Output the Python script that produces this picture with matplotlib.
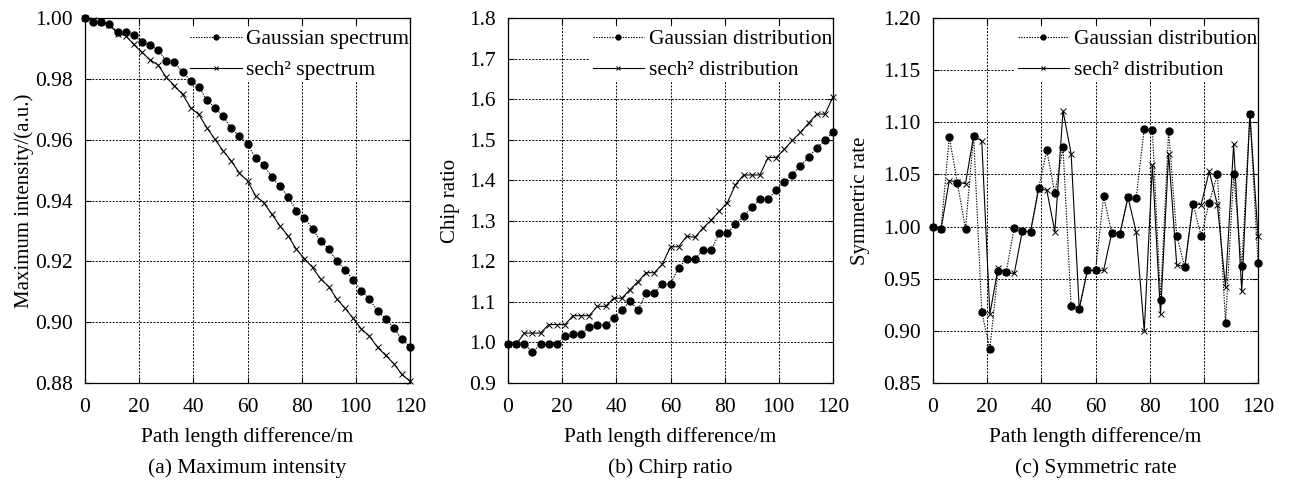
import matplotlib
matplotlib.use("Agg")
import matplotlib.pyplot as plt
from matplotlib.ticker import FormatStrFormatter

plt.rcParams['font.family'] = ['Liberation Serif', 'DejaVu Serif']
plt.rcParams['font.size'] = 15.5

# path length difference (m), sampled every 3 m
dist = [0, 3, 6, 9, 12, 15, 18, 21, 24, 27, 30, 33, 36, 39, 42, 45, 48, 51, 54, 57, 60,
        63, 66, 69, 72, 75, 78, 81, 84, 87, 90, 93, 96, 99, 102, 105, 108, 111, 114, 117, 120]

# (a) maximum intensity
gauss_int = [1.000, 0.9987, 0.9986, 0.9980, 0.9954, 0.9954, 0.9943, 0.9921, 0.9911, 0.9894,
             0.9860, 0.9854, 0.9823, 0.9794, 0.9774, 0.9730, 0.9705, 0.9677, 0.9637, 0.9612,
             0.9585, 0.9540, 0.9518, 0.9476, 0.9447, 0.9411, 0.9367, 0.9343, 0.9307, 0.9266,
             0.9241, 0.9200, 0.9173, 0.9140, 0.9104, 0.9077, 0.9036, 0.9012, 0.8980, 0.8944,
             0.8920]
sech_int = [1.000, 0.9993, 0.9986, 0.9978, 0.9949, 0.9942, 0.9913, 0.9887, 0.9863, 0.9845,
            0.9805, 0.9778, 0.9749, 0.9705, 0.9683, 0.9639, 0.9601, 0.9563, 0.9530, 0.9490,
            0.9465, 0.9415, 0.9393, 0.9355, 0.9316, 0.9284, 0.9240, 0.9209, 0.9180, 0.9142,
            0.9117, 0.9076, 0.9046, 0.9013, 0.8978, 0.8954, 0.8918, 0.8891, 0.8864, 0.8828,
            0.8806]

# (b) chirp ratio
gauss_chirp = [0.995, 0.995, 0.995, 0.977, 0.995, 0.995, 0.995, 1.017, 1.021, 1.021,
               1.039, 1.042, 1.042, 1.060, 1.080, 1.101, 1.080, 1.123, 1.123, 1.144,
               1.144, 1.184, 1.206, 1.206, 1.227, 1.227, 1.270, 1.270, 1.292, 1.312,
               1.333, 1.353, 1.353, 1.375, 1.396, 1.414, 1.436, 1.457, 1.480, 1.498,
               1.519]
sech_chirp = [0.995, 0.995, 1.023, 1.023, 1.023, 1.044, 1.044, 1.044, 1.066, 1.066,
              1.066, 1.089, 1.089, 1.109, 1.109, 1.130, 1.150, 1.172, 1.172, 1.193,
              1.236, 1.236, 1.262, 1.259, 1.282, 1.302, 1.323, 1.345, 1.389, 1.413,
              1.413, 1.413, 1.456, 1.456, 1.476, 1.498, 1.518, 1.541, 1.563, 1.563,
              1.605]

# (c) symmetric rate
gauss_sym = [1.000, 0.998, 1.086, 1.042, 0.998, 1.087, 0.918, 0.883, 0.957, 0.956,
             0.999, 0.996, 0.995, 1.037, 1.073, 1.032, 1.076, 0.924, 0.921, 0.958,
             0.958, 1.029, 0.994, 0.993, 1.028, 1.027, 1.094, 1.093, 0.930, 1.092,
             0.991, 0.961, 1.022, 0.991, 1.023, 1.050, 0.908, 1.050, 0.962, 1.108,
             0.965]
sech_sym = [1.000, 0.998, 1.044, 1.043, 1.041, 1.087, 1.082, 0.916, 0.960, 0.956,
            0.955, 0.996, 0.995, 1.036, 1.035, 0.995, 1.111, 1.070, 0.921, 0.958,
            0.958, 0.958, 0.994, 0.993, 1.028, 0.995, 0.900, 1.059, 0.916, 1.070,
            0.963, 0.962, 1.022, 1.021, 1.053, 1.021, 0.942, 1.079, 0.938, 1.108,
            0.991]

W, H = 1307, 480
TOP, BOTTOM, AW = 18, 383, 325
fig = plt.figure(figsize=(W / 100, H / 100), dpi=100)


def make_axes(left_px):
    return fig.add_axes([left_px / W, (H - BOTTOM) / H, AW / W, (BOTTOM - TOP) / H])


def style(ax, left_px, ylim, yticks, fmt, ylabel, ylabel_x, caption):
    ah = BOTTOM - TOP
    ax.set_xlim(0, 120)
    ax.set_xticks([0, 20, 40, 60, 80, 100, 120])
    ax.set_ylim(*ylim)
    ax.set_yticks(yticks)
    ax.yaxis.set_major_formatter(FormatStrFormatter(fmt))
    ax.grid(True, linestyle=(0, (2, 1.5)), color='black', linewidth=0.7)
    ax.tick_params(direction='in', top=True, right=True, length=4, width=0.8,
                   labelsize=15.5)
    ax.tick_params(axis='x', pad=11)
    ax.tick_params(axis='y', pad=9)
    for sp in ax.spines.values():
        sp.set_linewidth(0.9)
        sp.set_zorder(7)
    # label positions in pixels, converted to axes fractions
    ax.set_ylabel(ylabel, fontsize=15, va='center')
    ax.yaxis.set_label_coords((ylabel_x - left_px) / AW, 0.5)
    ax.set_xlabel('Path length difference/m', fontsize=15.5, va='center')
    ax.xaxis.set_label_coords(0.5, (BOTTOM - 437) / ah)
    ax.text(0.5, (BOTTOM - 468) / ah, caption, transform=ax.transAxes,
            ha='center', va='center', fontsize=15.5)


def draw(ax, ya, yb, la, lb):
    # data drawn above the legend box, the box only hides the grid
    ax.plot(dist, ya, linestyle=(0, (1.2, 1.2)), color='black', linewidth=0.8,
            marker='o', markersize=5, label=la, clip_on=False, zorder=6)
    ax.plot(dist, yb, linestyle='-', color='black', linewidth=0.8,
            marker='x', markersize=5, markeredgewidth=0.7, label=lb,
            clip_on=False, zorder=6)
    leg = ax.legend(loc='upper right', bbox_to_anchor=(1.003, 0.975), frameon=True,
                    fancybox=False, framealpha=1, edgecolor='white',
                    handlelength=2.4, handletextpad=0.2, borderpad=0.1,
                    labelspacing=0.5, markerscale=0.7, fontsize=15.5,
                    borderaxespad=0.0)
    leg.get_frame().set_linewidth(0)


ax1 = make_axes(85)
draw(ax1, gauss_int, sech_int, 'Gaussian spectrum', 'sech\u00b2 spectrum')
style(ax1, 85, (0.88, 1.00), [0.88, 0.90, 0.92, 0.94, 0.96, 0.98, 1.00], '%.2f',
      'Maximum intensity/(a.u.)', 24, '(a) Maximum intensity')

ax2 = make_axes(508)
draw(ax2, gauss_chirp, sech_chirp, 'Gaussian distribution', 'sech\u00b2 distribution')
style(ax2, 508, (0.9, 1.8), [0.9, 1.0, 1.1, 1.2, 1.3, 1.4, 1.5, 1.6, 1.7, 1.8], '%.1f',
      'Chip ratio', 450, '(b) Chirp ratio')

ax3 = make_axes(933)
draw(ax3, gauss_sym, sech_sym, 'Gaussian distribution', 'sech\u00b2 distribution')
style(ax3, 933, (0.85, 1.20), [0.85, 0.90, 0.95, 1.00, 1.05, 1.10, 1.15, 1.20], '%.2f',
      'Symmetric rate', 860, '(c) Symmetric rate')

fig.savefig('out.png', dpi=100)
